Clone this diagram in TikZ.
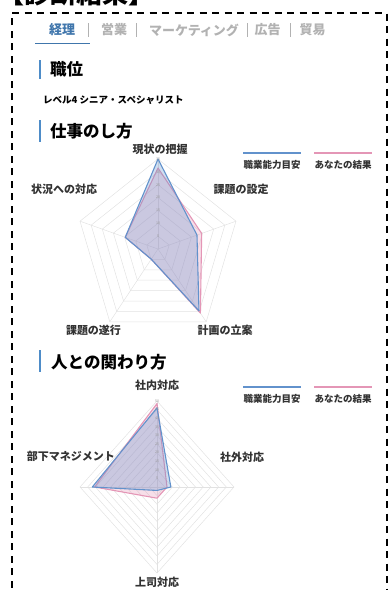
\documentclass[tikz,border=0pt]{standalone}
\usepackage{fontspec}
\setmainfont{Noto Sans CJK JP}
\usepackage{tikz}

\definecolor{tabblue}{RGB}{64,118,172}
\definecolor{barblue}{RGB}{78,140,200}
\definecolor{tabgray}{RGB}{178,178,178}
\definecolor{gridgray}{RGB}{226,226,226}
\definecolor{targetblue}{RGB}{98,146,204}
\definecolor{resultpink}{RGB}{228,150,182}
\definecolor{labelgray}{RGB}{50,50,50}

\begin{document}
\begin{tikzpicture}[x=1pt, y=-1pt,
  title/.style={font=\fontsize{26}{26}\selectfont\bfseries, inner sep=0pt, anchor=base west},
  tab/.style={font=\fontsize{13}{13}\selectfont\bfseries, text=tabgray, inner sep=0pt},
  heading/.style={font=\fontsize{16.5}{16.5}\selectfont\bfseries, anchor=west, inner sep=0pt},
  bar/.style={barblue, line width=2.5pt},
  axislabel/.style={font=\fontsize{11}{11}\selectfont\bfseries, text=labelgray, inner sep=0pt},
  legendtext/.style={font=\fontsize{9.5}{9.5}\selectfont\bfseries, text=labelgray, inner sep=0pt},
  tick/.style={font=\fontsize{3.6}{3.6}\selectfont, text=black!40, inner sep=0pt},
  ring/.style={gridgray, line width=0.5pt},
  target/.style={draw=targetblue, fill=targetblue, fill opacity=.3, line width=1.1pt, line join=round},
  result/.style={draw=resultpink, fill=resultpink, fill opacity=.3, line width=1.1pt, line join=round},
  keyline/.style={line width=1.6pt}
]
\clip (0,0) rectangle (388,590);

% page frame and cut title
\node[title] (head) at (-2,3) {【診断結果】};
\draw[line width=2pt, dash pattern=on 7pt off 5.5pt] (11.5,600) -- (11.5,13) -- (386.5,13) -- (386.5,600);

% tabs
\node[tab, text=tabblue] (keiri) at (62,30) {経理};
\node[tab] (eigyo) at (114,30) {営業};
\node[tab] (mkt) at (194,30) {マーケティング};
\node[tab] (koukoku) at (267.5,30) {広告};
\node[tab] (boueki) at (312.5,30) {貿易};
\foreach \x in {88,136,247,290}
  \draw[tabgray, line width=0.8pt] (\x,23) -- (\x,37);
\draw[tabblue, line width=1.8pt] (35,43.5) -- (90,43.5);

% sections
\draw[bar] (40,60) -- (40,79);
\node[heading] (pos) at (50,69) {職位};
\node[font=\fontsize{9.5}{9.5}\selectfont\bfseries, anchor=west, inner sep=0pt] (level) at (43,100) {レベル4 シニア・スペシャリスト};
\draw[bar] (40,120) -- (40,142);
\node[heading] (work) at (50,131) {仕事のし方};
\draw[bar] (40,350) -- (40,372);
\node[heading] (people) at (51,362) {人との関わり方};

% chart 1
\begin{scope}[shift={(158,249)}, x=82pt, y=90pt]
  \foreach \k in {1,...,7}
    \draw[ring] (90:{\k/7}) -- (18:{\k/7}) -- (-54:{\k/7}) -- (-126:{\k/7}) -- (162:{\k/7}) -- cycle;
  \foreach \a in {90,18,-54,-126,162}
    \draw[ring] (0,0) -- (\a:1);
  \draw[result] (90:.9) -- (18:.56) -- (-54:.88) -- (-126:.14) -- (162:.42) -- cycle;
  \draw[target] (90:1) -- (18:.5) -- (-54:.85) -- (-126:.14) -- (162:.42) -- cycle;
  \foreach \k [evaluate=\k as \v using int(5*\k)] in {1,...,7}
    \node[tick] (wt\k) at (0,{\k/7}) {\v};
\end{scope}
\node[axislabel] (w1) at (160,149) {現状の把握};
\node[axislabel] (w2) at (241,189) {課題の設定};
\node[axislabel] (w3) at (225,330) {計画の立案};
\node[axislabel] (w4) at (93.5,330) {課題の遂行};
\node[axislabel] (w5) at (64,189) {状況への対応};
\node[legendtext] (wkey1) at (272,165) {職業能力目安};
\node[legendtext] (wkey2) at (343,165) {あなたの結果};
\draw[keyline, targetblue] ([yshift=7pt]wkey1.north west) -- ([yshift=7pt]wkey1.north east);
\draw[keyline, resultpink] ([yshift=7pt]wkey2.north west) -- ([yshift=7pt]wkey2.north east);

% chart 2
\begin{scope}[shift={(157,487)}, x=77pt, y=86pt]
  \foreach \k in {1,...,10}
    \draw[ring] (90:{\k/10}) -- (0:{\k/10}) -- (-90:{\k/10}) -- (180:{\k/10}) -- cycle;
  \foreach \a in {90,0,-90,180}
    \draw[ring] (0,0) -- (\a:1);
  \draw[result] (90:.97) -- (0:.13) -- (-90:.13) -- (180:.81) -- cycle;
  \draw[target] (90:.92) -- (0:.18) -- (-90:.04) -- (180:.84) -- cycle;
  \foreach \k [evaluate=\k as \v using int(5*\k)] in {1,...,10}
    \node[tick] (pt\k) at (0,{\k/10}) {\v};
\end{scope}
\node[axislabel] (p1) at (157,385) {社内対応};
\node[axislabel] (p2) at (242,457) {社外対応};
\node[axislabel] (p3) at (157,582) {上司対応};
\node[axislabel] (p4) at (71,456) {部下マネジメント};
\node[legendtext] (pkey1) at (272,399) {職業能力目安};
\node[legendtext] (pkey2) at (343,399) {あなたの結果};
\draw[keyline, targetblue] ([yshift=7pt]pkey1.north west) -- ([yshift=7pt]pkey1.north east);
\draw[keyline, resultpink] ([yshift=7pt]pkey2.north west) -- ([yshift=7pt]pkey2.north east);
\end{tikzpicture}
\end{document}
